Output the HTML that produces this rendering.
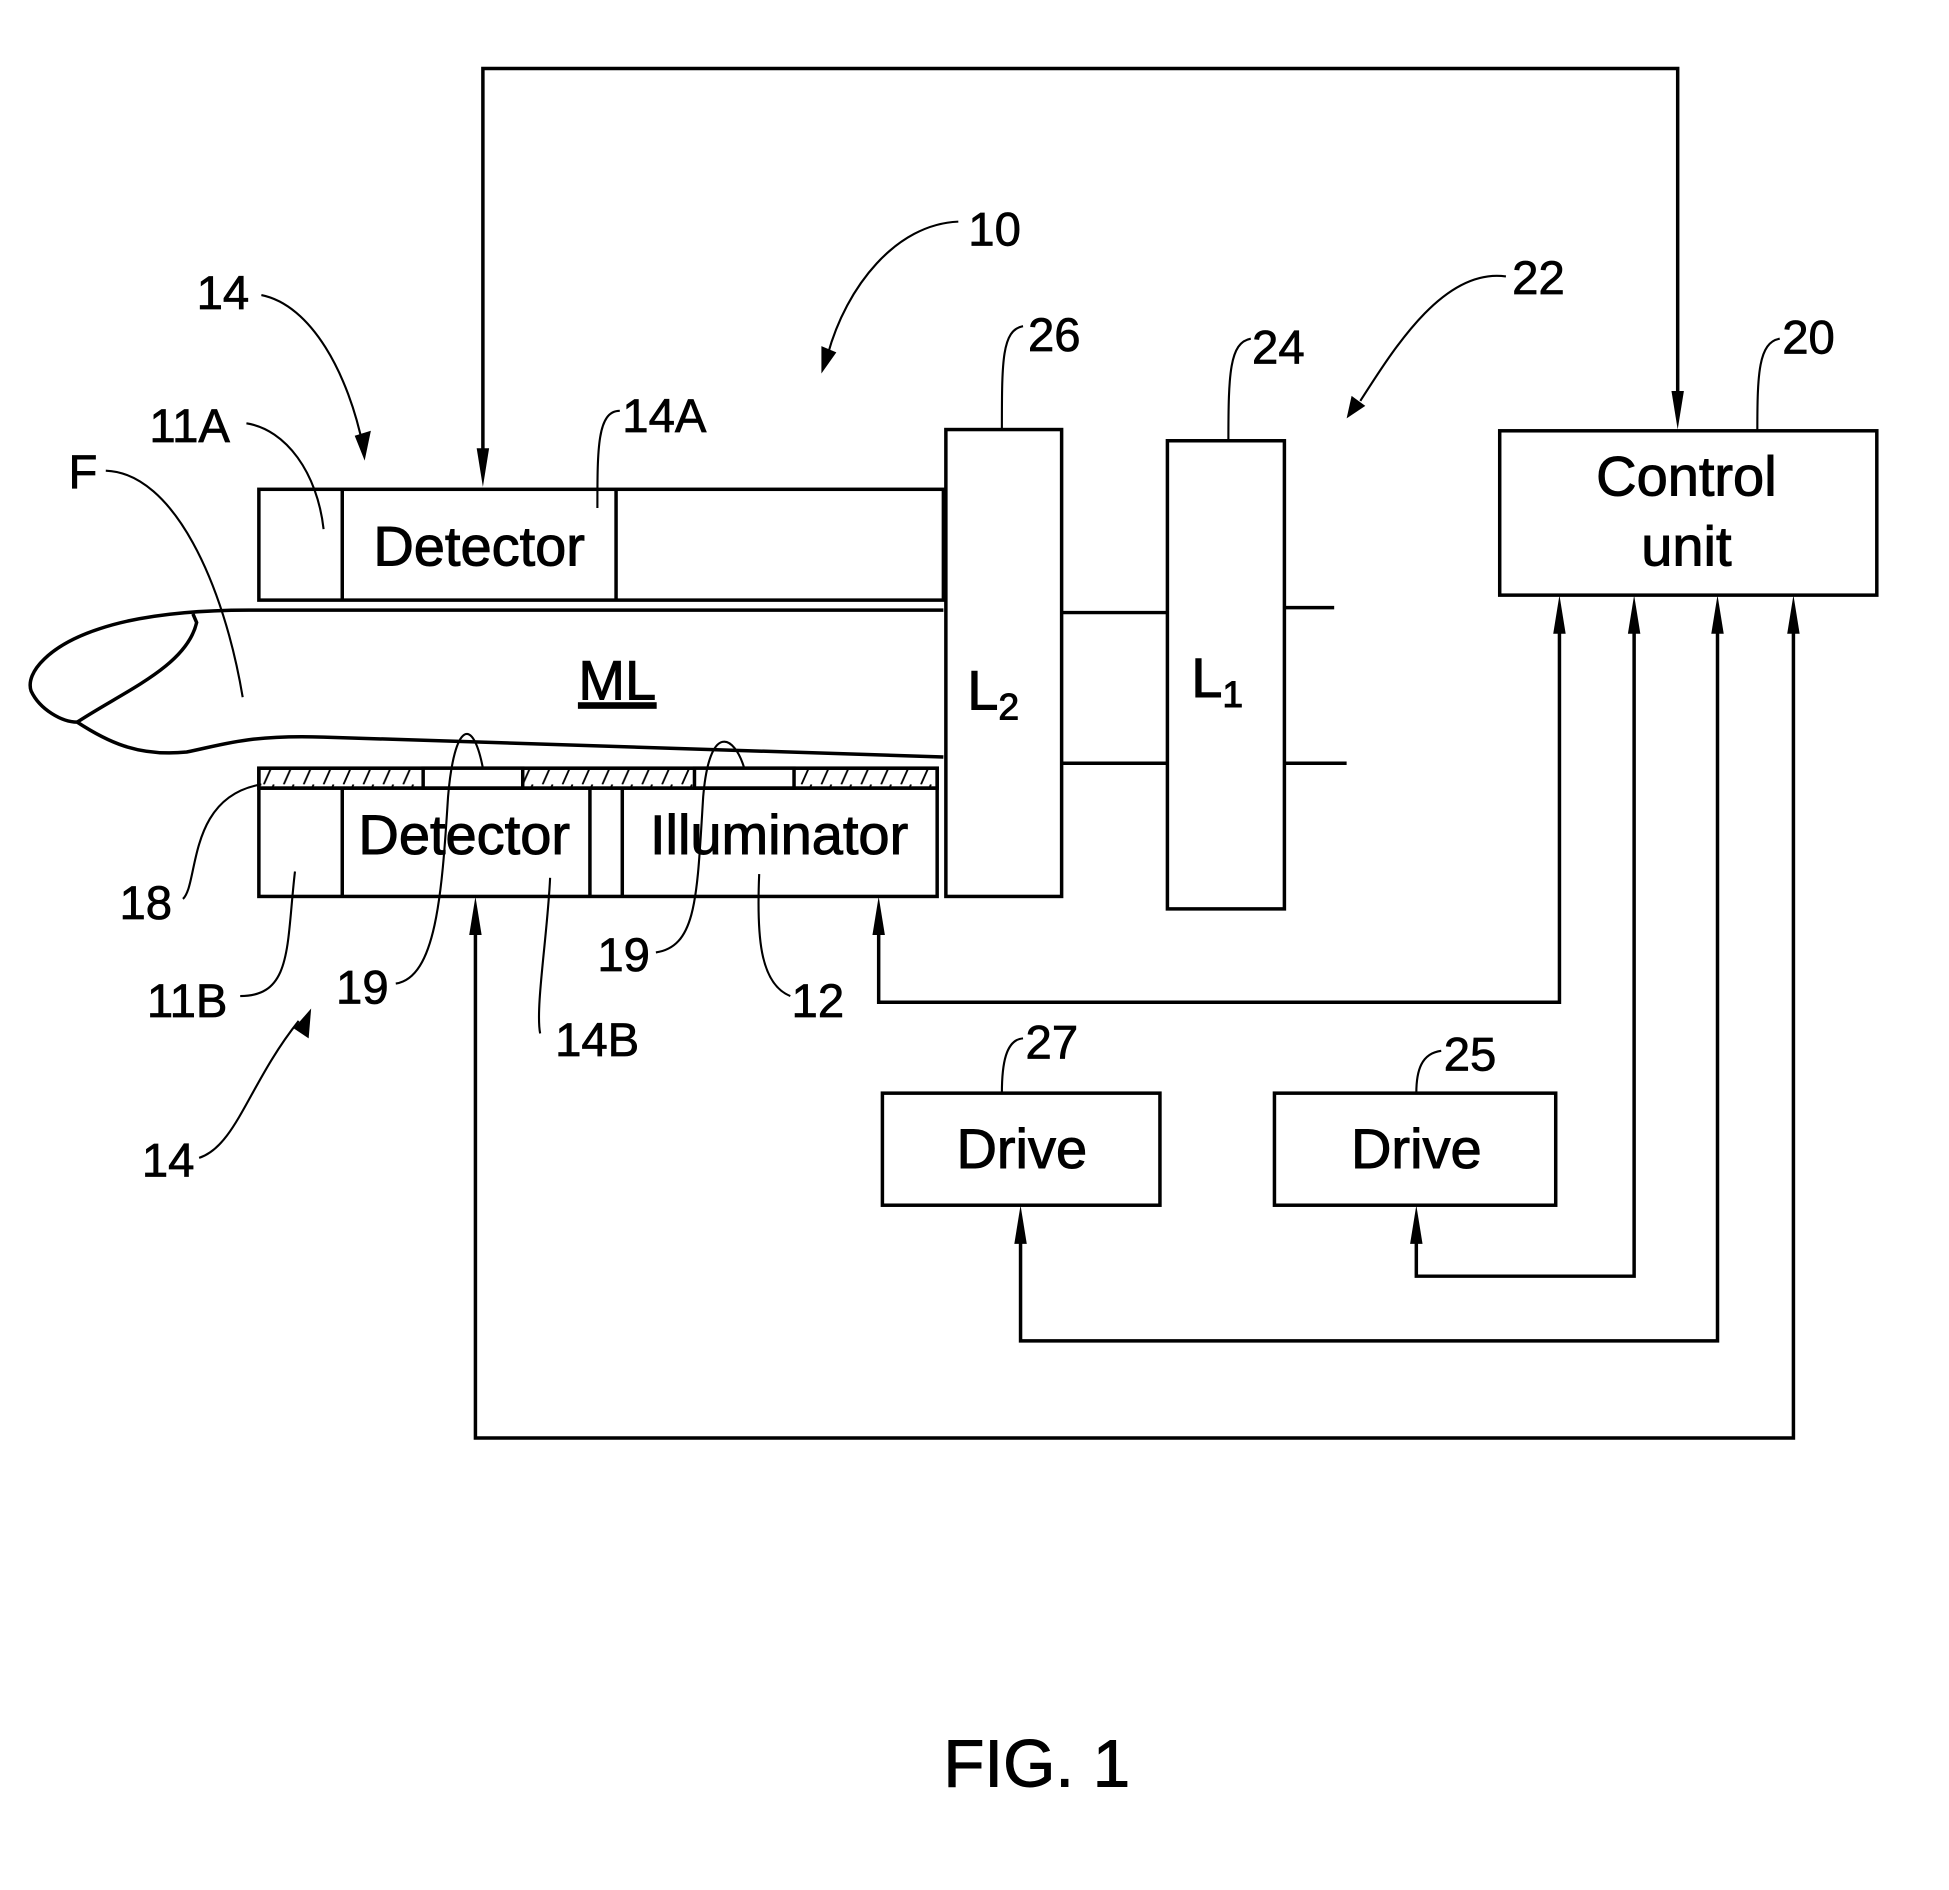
<!DOCTYPE html>
<html><head><meta charset="utf-8"><style>html,body{margin:0;padding:0;background:#fff}svg{display:block}</style></head>
<body>
<svg width="1949" height="1890" viewBox="0 0 1566 1518" preserveAspectRatio="none" xmlns="http://www.w3.org/2000/svg" font-family="Liberation Sans, Arial, sans-serif">
<defs>
<pattern id="h" width="16" height="18" patternUnits="userSpaceOnUse"><path d="M4,18 L12,0" stroke="#000" stroke-width="1.5"/></pattern>
</defs>
<g fill="none" stroke="#000" stroke-width="2.8">
<polyline points="388,370 388,55 1348,55 1348,330"/>
<rect x="208" y="393" width="550" height="89"/>
<line x1="275" y1="393" x2="275" y2="482"/><line x1="495" y1="393" x2="495" y2="482"/>
<rect x="760" y="345" width="93" height="375"/>
<rect x="938" y="354" width="94" height="376"/>
<line x1="853" y1="492" x2="938" y2="492"/><line x1="1032" y1="488" x2="1072" y2="488"/>
<line x1="853" y1="613" x2="938" y2="613"/><line x1="1032" y1="613" x2="1082" y2="613"/>
<path d="M758,490 L200,490 C150,490 110,495 80,505 C40,518 20,540 25,555 C32,570 50,580 62,580 C85,595 110,608 150,604 C180,598 200,590 260,592 L758,608"/>
<path d="M62,580 C100,555 150,535 158,500 L155,493"/>
<rect x="208" y="617" width="545" height="103"/>
<rect x="208" y="617" width="545" height="16" fill="url(#h)"/>
<rect x="340" y="617" width="80" height="16" fill="#fff"/>
<rect x="558" y="617" width="80" height="16" fill="#fff"/>
<line x1="208" y1="633" x2="753" y2="633"/>
<line x1="275" y1="633" x2="275" y2="720"/><line x1="474" y1="633" x2="474" y2="720"/><line x1="500" y1="633" x2="500" y2="720"/>
<rect x="1205" y="346" width="303" height="132"/>
<rect x="709" y="878" width="223" height="90"/>
<rect x="1024" y="878" width="226" height="90"/>
<polyline points="1441,500 1441,1155 382,1155 382,740"/>
<polyline points="1253,500 1253,805 706,805 706,740"/>
<polyline points="1380,500 1380,1077 820,1077 820,988"/>
<polyline points="1313,500 1313,1025 1138,1025 1138,988"/>
</g>
<g fill="#000">
<polygon points="383,360 393,360 388,391"/>
<polygon points="1343,314 1353,314 1348,345"/>
<polygon points="377,751 387,751 382,720"/>
<polygon points="701,751 711,751 706,720"/>
<polygon points="815,999 825,999 820,968"/>
<polygon points="1133,999 1143,999 1138,968"/>
<polygon points="1248,509 1258,509 1253,478"/>
<polygon points="1308,509 1318,509 1313,478"/>
<polygon points="1375,509 1385,509 1380,478"/>
<polygon points="1436,509 1446,509 1441,478"/>
</g>
<g fill="none" stroke="#000" stroke-width="1.7">
<path d="M210,237 C250,245 280,300 292,360"/>
<path d="M160,930 C190,920 200,870 240,820"/>
<path d="M770,178 C720,180 680,230 665,285"/>
<path d="M1210,222 C1160,215 1120,280 1093,322"/>
<path d="M198,340 C230,345 255,380 260,425"/>
<path d="M85,378 C140,380 180,470 195,560"/>
<path d="M498,330 C480,330 480,360 480,408"/>
<path d="M822,262 C805,265 805,290 805,345"/>
<path d="M1005,272 C988,275 987,300 987,354"/>
<path d="M1430,272 C1413,275 1412,300 1412,346"/>
<path d="M147,722 C160,710 150,640 210,630"/>
<path d="M193,800 C235,800 230,760 237,700"/>
<path d="M318,790 C350,785 355,720 360,640 C365,580 380,575 388,617"/>
<path d="M527,765 C560,760 560,720 565,640 C570,580 590,590 598,617"/>
<path d="M434,830 C430,810 440,750 442,705"/>
<path d="M635,800 C610,790 608,750 610,702"/>
<path d="M822,834 C808,835 805,855 805,878"/>
<path d="M1158,844 C1142,846 1138,860 1138,878"/>
</g>
<g fill="#000">
<polygon points="285,350 298,346 293,370"/>
<polygon points="236,826 248,834 250,810"/>
<polygon points="660,278 672,283 660,300"/>
<polygon points="1086,318 1097,326 1082,336"/>
</g>
<g font-size="45" text-anchor="middle" stroke="#000" stroke-width="0.8">
<text x="385" y="454">Detector</text>
<text x="373" y="686">Detector</text>
<text x="626" y="686">Illuminator</text>
<text x="1355" y="398">Control</text>
<text x="1355" y="454">unit</text>
<text x="821" y="938">Drive</text>
<text x="1138" y="938">Drive</text>
<text x="496" y="562" text-decoration="underline">ML</text>
<text x="798" y="570">L<tspan font-size="30" dy="8">2</tspan></text>
<text x="978" y="560">L<tspan font-size="30" dy="8">1</tspan></text>
<text x="833" y="1435" font-size="54">FIG. 1</text>
</g>
<g font-size="38" stroke="#000" stroke-width="0.6">
<text x="158" y="248">14</text>
<text x="120" y="355">11A</text>
<text x="55" y="392">F</text>
<text x="778" y="197">10</text>
<text x="1215" y="236">22</text>
<text x="826" y="282">26</text>
<text x="1006" y="292">24</text>
<text x="1432" y="284">20</text>
<text x="500" y="347">14A</text>
<text x="96" y="738">18</text>
<text x="118" y="817">11B</text>
<text x="270" y="806">19</text>
<text x="480" y="780">19</text>
<text x="446" y="848">14B</text>
<text x="636" y="817">12</text>
<text x="114" y="945">14</text>
<text x="824" y="850">27</text>
<text x="1160" y="860">25</text>
</g>
</svg>
</body></html>
